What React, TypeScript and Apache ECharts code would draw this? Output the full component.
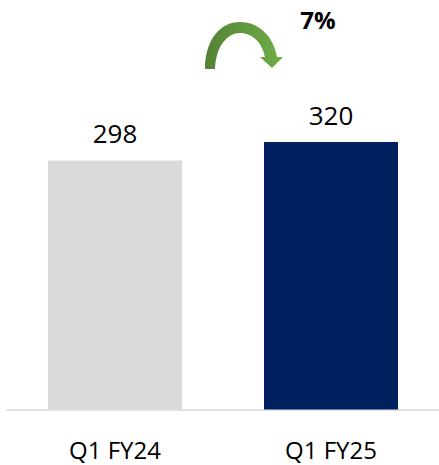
import React, { useEffect, useRef } from "react";
import * as echarts from "echarts";

const categories = ["Q1 FY24", "Q1 FY25"];
const values = [298, 320];
const barColors = ["#d9d9d9", "#002060"];
const growthLabel = "7%";

const arrowD =
  "M 205 69 C 205 40 220 22 240 22 C 260 22 274 38 277 57 L 283 57 L 272 68 L 260 57 L 265 57 C 262 42 252 33 240 33 C 228 33 216 45 215 69 Z";

let registered = false;

export default function App() {
  const ref = useRef<HTMLDivElement>(null);
  useEffect(() => {
    if (!ref.current) return;
    if (!registered) {
      echarts.graphic.registerShape("curveArrow", echarts.graphic.extendPath(arrowD, {}) as any);
      registered = true;
    }
    const chart = echarts.init(ref.current, null, { renderer: "svg" });
    chart.setOption({
      animation: false,
      grid: { left: 7, top: 0, width: 437, bottom: 55.5, containLabel: false },
      xAxis: {
        type: "category",
        data: categories,
        axisLine: { lineStyle: { color: "#d9d9d9", width: 1.5 } },
        axisTick: { show: false },
        axisLabel: {
          color: "#000",
          fontFamily: "Open Sans",
          fontSize: 24,
          lineHeight: 23,
          margin: 28,
        },
      },
      yAxis: {
        type: "value",
        min: 0,
        max: 490,
        show: false,
        splitLine: { show: false },
      },
      series: [
        {
          type: "bar",
          barWidth: 134,
          data: values.map((v, i) => ({ value: v, itemStyle: { color: barColors[i] } })),
          label: {
            show: true,
            position: "top",
            distance: 14,
            color: "#000",
            fontFamily: "Open Sans",
            fontSize: 26,
          },
        },
      ],
      graphic: [
        {
          type: "curveArrow",
          x: 0,
          y: 0,
          style: {
            fill: new echarts.graphic.LinearGradient(0, 0, 1, 0, [
              { offset: 0, color: "#548235" },
              { offset: 1, color: "#70ad47" },
            ]),
          },
        },
        {
          type: "text",
          x: 318,
          y: 19,
          style: {
            text: growthLabel,
            fontFamily: "Open Sans",
            fontWeight: "bold",
            fontSize: 24,
            fill: "#000",
            align: "center",
            verticalAlign: "middle",
          },
        },
      ],
    });
    return () => chart.dispose();
  }, []);
  return (
    <div
      ref={ref}
      style={{ position: "absolute", left: 0, top: 0, width: 439, height: 465 }}
    />
  );
}
